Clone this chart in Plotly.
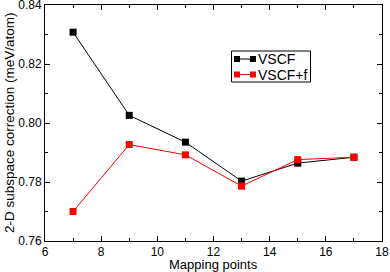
import plotly.graph_objects as go

mapping_points = [7, 9, 11, 13, 15, 17]
vscf = [0.8308, 0.8026, 0.7935, 0.7803, 0.7864, 0.7884]
vscf_f = [0.7700, 0.7927, 0.7892, 0.7786, 0.7876, 0.7884]
series_names = ["VSCF", "VSCF+f"]
series_colors = ["black", "#ff0000"]

W, H = 390, 272
ML, MR, MT, MB = 45, 8, 5, 31
PW, PH = W - ML - MR, H - MT - MB


def px(x):
    return (x - ML) / PW


def py(y):
    return (H - MB - y) / PH


fig = go.Figure()
for name, vals, col in zip(series_names, [vscf, vscf_f], series_colors):
    fig.add_trace(go.Scatter(x=mapping_points, y=vals, mode="lines+markers", name=name,
                             line=dict(color=col, width=1),
                             marker=dict(symbol="square", size=7, color=col)))

axis_common = dict(showline=True, linecolor="black", linewidth=1, mirror="allticks",
                   ticks="inside", ticklen=5, tickcolor="black", showgrid=False,
                   zeroline=False, automargin=False, ticklabeloverflow="allow",
                   tickfont=dict(size=12, color="black"))

# manual legend (box, symbols with two squares, text)
shapes = [dict(type="rect", xref="paper", yref="paper",
               x0=px(231.5), x1=px(310.5), y0=py(82), y1=py(51),
               line=dict(color="black", width=1), fillcolor="white", layer="above")]
annotations = []
for i, (name, col) in enumerate(zip(series_names, series_colors)):
    yc = 59 + 15.5 * i
    shapes.append(dict(type="line", xref="paper", yref="paper",
                       x0=px(237), x1=px(253), y0=py(yc), y1=py(yc),
                       line=dict(color=col, width=1), layer="above"))
    for xc in (237, 253):
        shapes.append(dict(type="rect", xref="paper", yref="paper",
                           x0=px(xc - 3), x1=px(xc + 3), y0=py(yc + 3), y1=py(yc - 3),
                           line=dict(color=col, width=0), fillcolor=col, layer="above"))
    annotations.append(dict(text=name, xref="paper", yref="paper", x=px(256), y=py(yc),
                            xanchor="left", yanchor="middle", showarrow=False,
                            font=dict(size=14, color="black")))

annotations += [
    dict(text="Mapping points", xref="paper", yref="paper", x=0.5, y=py(264.5),
         xanchor="center", yanchor="middle", showarrow=False, font=dict(size=13)),
    dict(text="2-D subspace correction (meV/atom)", xref="paper", yref="paper",
         x=px(9), y=0.5, xanchor="center", yanchor="middle", textangle=-90,
         showarrow=False, font=dict(size=13.5)),
]

fig.update_layout(
    width=W, height=H,
    margin=dict(l=ML, r=MR, t=MT, b=MB),
    paper_bgcolor="white", plot_bgcolor="white",
    font=dict(family="Liberation Sans, Arial, sans-serif", size=13, color="black"),
    xaxis=dict(range=[6, 18], dtick=2,
               minor=dict(dtick=1, ticks="inside", ticklen=3, tickcolor="black"),
               **axis_common),
    yaxis=dict(range=[0.76, 0.84001], dtick=0.02, tickformat=".2f",
               minor=dict(dtick=0.01, ticks="inside", ticklen=3, tickcolor="black"),
               **axis_common),
    showlegend=False,
    shapes=shapes,
    annotations=annotations,
)

fig.write_html("out.html", config={"displayModeBar": False},
               post_script="document.body.style.margin='0';document.body.style.padding='0';")
